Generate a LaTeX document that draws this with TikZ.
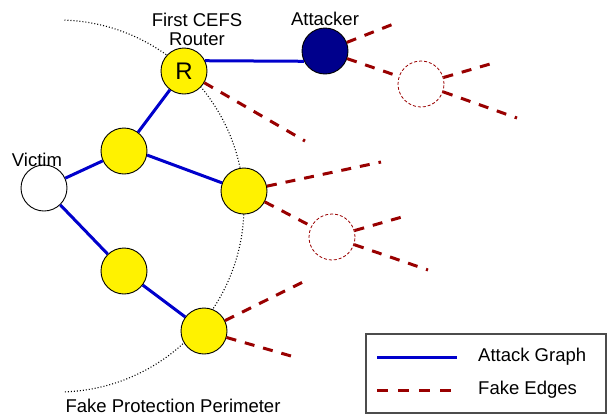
\documentclass[tikz,border=0pt]{standalone}
\usepackage{fontspec}
\setmainfont{Liberation Sans}
\definecolor{ablue}{RGB}{0,0,204}
\definecolor{attnavy}{RGB}{0,0,140}
\definecolor{fred}{RGB}{153,0,0}
\begin{document}
\begin{tikzpicture}[x=1pt,y=1pt,
  font=\fontsize{18.5}{19}\selectfont,
  router/.style={circle,draw=black,line width=0.9pt,fill=yellow,minimum size=46pt,inner sep=0pt},
  victimnode/.style={router,fill=white},
  attnode/.style={router,fill=attnavy},
  fakenode/.style={circle,draw=fred,dash pattern=on 3pt off 2pt,line width=0.8pt,minimum size=46pt,inner sep=0pt},
  attackedge/.style={draw=ablue,line width=3pt},
  fakeedge/.style={draw=fred,line width=3pt,dash pattern=on 10pt off 9pt},
  perim/.style={draw=black,line width=1.1pt,dash pattern=on 1pt off 2pt},
  lbl/.style={inner sep=0pt,align=center}]
\useasboundingbox (0,0) rectangle (608,-416);
% perimeter arc
\draw[perim] (58,-206) ++(88:186) arc[start angle=88,end angle=-88,radius=186];
% nodes
\node[victimnode] (V) at (44,-188) {};
\node[router] (A1) at (124,-151) {};
\node[router] (R) at (184,-71) {\fontsize{24}{24}\selectfont R};
\node[attnode] (Att) at (325,-51) {};
\node[router] (M) at (244,-191) {};
\node[router] (L) at (124,-271) {};
\node[router] (B) at (204,-331) {};
\node[fakenode] (F1) at (421,-84) {};
\node[fakenode] (F2) at (332,-237) {};
% free ends
\coordinate (e1) at (396,-23);
\coordinate (e2) at (497,-62);
\coordinate (e3) at (517,-118);
\coordinate (e4) at (305,-141);
\coordinate (e5) at (381,-162);
\coordinate (e6) at (409,-215);
\coordinate (e7) at (428,-270);
\coordinate (e8) at (305,-281);
\coordinate (e9) at (298,-358);
% attack edges
\draw[attackedge] (V) -- (A1);
\draw[attackedge] (A1) -- (R);
\draw[attackedge] (R.26) -- (Att.-154);
\draw[attackedge] (A1.-10) -- (M);
\draw[attackedge] (V) -- (L);
\draw[attackedge] (L) -- (B);
% fake edges
\draw[fakeedge] (Att) -- (e1);
\draw[fakeedge] (Att) -- (F1);
\draw[fakeedge] (F1) -- (e2);
\draw[fakeedge] (F1) -- (e3);
\draw[fakeedge] (R) -- (e4);
\draw[fakeedge] (M) -- (e5);
\draw[fakeedge] (M) -- (F2);
\draw[fakeedge] (F2) -- (e6);
\draw[fakeedge] (F2) -- (e7);
\draw[fakeedge] (B) -- (e8);
\draw[fakeedge] (B) -- (e9);
% labels
\node[lbl] (tv) at (37,-160) {Victim};
\node[lbl] (tr) at (197,-29) {First CEFS\\Router};
\node[lbl] (ta) at (325,-19) {Attacker};
\node[lbl] (tp) at (173,-406) {Fake Protection Perimeter};
% legend
\node[draw=black!70,line width=1.5pt,minimum width=240pt,minimum height=79pt,inner sep=0pt] (leg) at (486,-373.5) {};
\coordinate (la1) at (377,-357);
\coordinate (la2) at (457,-357);
\coordinate (lb1) at (377,-390);
\coordinate (lb2) at (457,-390);
\draw[attackedge] (la1) -- (la2);
\draw[draw=fred,line width=3pt,dash pattern=on 11pt off 10pt] (lb1) -- (lb2);
\node[lbl,anchor=west] (tl1) at (478,-357) {Attack Graph};
\node[lbl,anchor=west] (tl2) at (478,-390) {Fake Edges};
\end{tikzpicture}
\end{document}
